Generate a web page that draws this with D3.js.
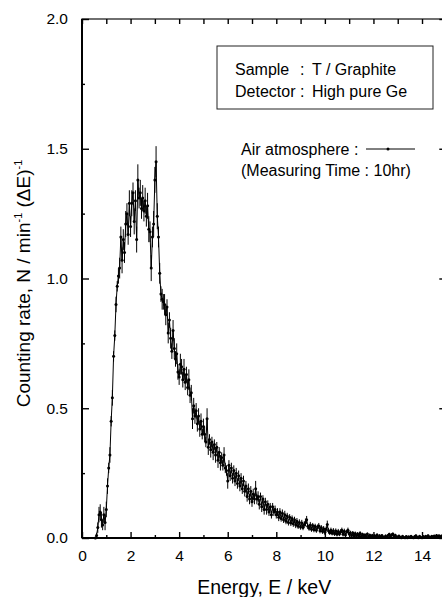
<!DOCTYPE html>
<html>
<head>
<meta charset="utf-8">
<script src="https://cdn.jsdelivr.net/npm/d3@7"></script>
<style>
  body { margin: 0; background: #fff; }
  svg { display: block; }
  text { font-family: "Liberation Sans", Arial, Helvetica, sans-serif; fill: #000; }
</style>
</head>
<body>
<svg id="chart" width="442" height="597"></svg>
<script>
// channel calibration of the spectrum (keV)
const eStart = 0.55
const eStep = 0.05

// counting rate per channel
const counts = [
  0.00, 0.01, 0.04, 0.09, 0.10, 0.07, 0.05, 0.09, 0.06, 0.11, 0.20, 0.27, 0.32, 0.45, 0.54,
  0.70, 0.78, 0.90, 0.97, 1.01, 1.04, 1.16, 1.07, 1.15, 1.10, 1.21, 1.25, 1.17, 1.29, 1.20,
  1.29, 1.33, 1.22, 1.30, 1.15, 1.38, 1.31, 1.33, 1.27, 1.31, 1.26, 1.30, 1.24, 1.28, 1.19,
  1.18, 1.04, 1.16, 1.21, 1.38, 1.45, 1.24, 1.16, 1.02, 0.94, 0.92, 0.91, 0.90, 0.86, 0.89,
  0.79, 0.84, 0.77, 0.72, 0.80, 0.73, 0.69, 0.71, 0.64, 0.62, 0.67, 0.66, 0.61, 0.65, 0.60,
  0.63, 0.58, 0.61, 0.55, 0.56, 0.46, 0.51, 0.47, 0.49, 0.44, 0.47, 0.42, 0.45, 0.40, 0.43,
  0.40, 0.37, 0.46, 0.35, 0.38, 0.34, 0.37, 0.33, 0.36, 0.32, 0.35, 0.30, 0.33, 0.29, 0.31,
  0.28, 0.32, 0.27, 0.26, 0.22, 0.28, 0.24, 0.27, 0.23, 0.26, 0.22, 0.25, 0.21, 0.24, 0.20,
  0.23, 0.19, 0.22, 0.18, 0.20, 0.16, 0.19, 0.15, 0.18, 0.14, 0.17, 0.15, 0.19, 0.15, 0.16,
  0.13, 0.16, 0.12, 0.15, 0.11, 0.14, 0.11, 0.13, 0.10, 0.12, 0.09, 0.12, 0.10, 0.11, 0.09,
  0.10, 0.08, 0.10, 0.075, 0.095, 0.07, 0.09, 0.065, 0.085, 0.06, 0.08, 0.058, 0.075, 0.055, 0.07,
  0.05, 0.065, 0.045, 0.06, 0.042, 0.058, 0.04, 0.052, 0.06, 0.07, 0.045, 0.038, 0.05, 0.034, 0.048,
  0.032, 0.045, 0.03, 0.042, 0.046, 0.028, 0.04, 0.026, 0.036, 0.022, 0.034, 0.052, 0.028, 0.02, 0.03,
  0.018, 0.028, 0.016, 0.027, 0.014, 0.025, 0.015, 0.024, 0.03, 0.014, 0.026, 0.012, 0.024, 0.03, 0.016,
  0.02, 0.01, 0.019, 0.009, 0.017, 0.008, 0.015, 0.009, 0.018, 0.006, 0.014, 0.007, 0.012, 0.005, 0.015,
  0.006, 0.011, 0.004, 0.01, 0.003, 0.009, 0.004, 0.012, 0.003, 0.009, 0.002, 0.01, 0.004, 0.002, 0.008,
  0.003, 0.01, 0.014, 0.006, 0.012, 0.015, 0.005, 0.011, 0.004, 0.002, 0.008, 0.003, 0.001, 0.007, 0.002,
  0.001, 0.006, 0.001, 0.005, 0.002, 0.007, 0.002, 0.001, 0.006, 0.009, 0.003, 0.001, 0.007, 0.002, 0.001,
  0.006, 0.002, 0.007, 0.003, 0.009, 0.004, 0.002, 0.007, 0.003, 0.008, 0.004, 0.01, 0.005, 0.009, 0.004,
  0.008, 0.005
]

// half length of the error bar on each channel
const errors = [
  0.00, 0.01, 0.02, 0.03, 0.03, 0.03, 0.02, 0.03, 0.03, 0.03, 0.03, 0.02, 0.03, 0.02, 0.03,
  0.02, 0.02, 0.03, 0.02, 0.03, 0.04, 0.04, 0.05, 0.04, 0.04, 0.05, 0.04, 0.04, 0.05, 0.04,
  0.05, 0.04, 0.05, 0.04, 0.05, 0.06, 0.04, 0.05, 0.04, 0.05, 0.04, 0.05, 0.04, 0.05, 0.05,
  0.04, 0.05, 0.04, 0.05, 0.05, 0.06, 0.05, 0.04, 0.04, 0.03, 0.04, 0.03, 0.04, 0.04, 0.03,
  0.04, 0.03, 0.04, 0.03, 0.04, 0.04, 0.03, 0.04, 0.03, 0.03, 0.04, 0.03, 0.03, 0.04, 0.03,
  0.03, 0.03, 0.04, 0.03, 0.03, 0.04, 0.03, 0.03, 0.03, 0.03, 0.03, 0.03, 0.03, 0.02, 0.03,
  0.03, 0.02, 0.04, 0.03, 0.02, 0.03, 0.02, 0.03, 0.02, 0.03, 0.02, 0.03, 0.02, 0.03, 0.02,
  0.02, 0.03, 0.02, 0.02, 0.03, 0.02, 0.02, 0.02, 0.02, 0.02, 0.02, 0.02, 0.02, 0.02, 0.02,
  0.02, 0.02, 0.02, 0.02, 0.02, 0.02, 0.02, 0.02, 0.02, 0.02, 0.02, 0.02, 0.03, 0.02, 0.02,
  0.02, 0.015, 0.02, 0.015, 0.02, 0.015, 0.02, 0.015, 0.015, 0.015, 0.015, 0.015, 0.015, 0.015, 0.015,
  0.015, 0.015, 0.015, 0.012, 0.015, 0.012, 0.015, 0.012, 0.012, 0.012, 0.012, 0.012, 0.012, 0.012, 0.012,
  0.012, 0.012, 0.01, 0.012, 0.01, 0.012, 0.01, 0.012, 0.015, 0.015, 0.01, 0.01, 0.012, 0.01, 0.01,
  0.01, 0.01, 0.01, 0.01, 0.012, 0.01, 0.01, 0.01, 0.01, 0.01, 0.01, 0.015, 0.01, 0.008, 0.01,
  0.008, 0.01, 0.008, 0.01, 0.008, 0.01, 0.008, 0.01, 0.01, 0.008, 0.01, 0.008, 0.008, 0.01, 0.008,
  0.008, 0.006, 0.008, 0.006, 0.008, 0.006, 0.008, 0.006, 0.008, 0.006, 0.006, 0.006, 0.006, 0.005, 0.006,
  0.005, 0.006, 0.004, 0.006, 0.004, 0.005, 0.004, 0.006, 0.004, 0.005, 0.003, 0.005, 0.004, 0.003, 0.005,
  0.003, 0.005, 0.006, 0.004, 0.006, 0.006, 0.004, 0.005, 0.004, 0.003, 0.004, 0.003, 0.002, 0.004, 0.003,
  0.002, 0.004, 0.002, 0.003, 0.002, 0.004, 0.002, 0.002, 0.004, 0.005, 0.003, 0.002, 0.004, 0.002, 0.002,
  0.004, 0.002, 0.004, 0.003, 0.005, 0.003, 0.002, 0.004, 0.003, 0.004, 0.003, 0.005, 0.003, 0.004, 0.003,
  0.004, 0.003
]

const xMajor = [0, 2, 4, 6, 8, 10, 12, 14]
const xMinor = [1, 3, 5, 7, 9, 11, 13]
const yMajor = [0, 0.5, 1.0, 1.5, 2.0]
const yMinor = [0.25, 0.75, 1.25, 1.75]

const infoLabels = ['Sample', 'Detector']
const infoValues = ['T / Graphite', 'High pure Ge']
const seriesName = 'Air atmosphere :'
const seriesNote = '(Measuring Time : 10hr)'

const data = counts.map((c, i) => ({ e: eStart + i * eStep, c: c, err: errors[i] }))

const svg = d3.select('#chart')
const x = d3.scaleLinear().domain([0, 15]).range([82, 446.3])
const y = d3.scaleLinear().domain([0, 2]).range([538, 19])

// frame
svg.append('rect')
  .attr('x', x(0)).attr('y', y(2))
  .attr('width', x(15) - x(0)).attr('height', y(0) - y(2))
  .attr('fill', 'none').attr('stroke', '#111').attr('stroke-width', 1.2)
svg.append('line').attr('x1', x(0)).attr('x2', x(0)).attr('y1', y(2)).attr('y2', y(0))
  .attr('stroke', '#000').attr('stroke-width', 2)
svg.append('line').attr('x1', x(0)).attr('x2', x(15)).attr('y1', y(0)).attr('y2', y(0))
  .attr('stroke', '#000').attr('stroke-width', 2)

function styleAxis (g) {
  g.select('.domain').remove()
  g.selectAll('line').attr('stroke', '#000').attr('stroke-width', 1.4)
  g.selectAll('text').attr('fill', '#000').style('font-size', '15.5px')
}

// bottom
svg.append('g').attr('transform', `translate(0,${y(0)})`)
  .call(d3.axisBottom(x).tickValues(xMajor).tickFormat(d3.format('d')).tickSize(-6).tickPadding(12))
  .call(styleAxis)
svg.append('g').attr('transform', `translate(0,${y(0)})`)
  .call(d3.axisBottom(x).tickValues(xMinor).tickFormat('').tickSize(-3))
  .call(styleAxis)
// top
svg.append('g').attr('transform', `translate(0,${y(2)})`)
  .call(d3.axisTop(x).tickValues(xMajor.concat(xMinor)).tickFormat('').tickSize(-5))
  .call(styleAxis)
// left
svg.append('g').attr('transform', `translate(${x(0)},0)`)
  .call(d3.axisLeft(y).tickValues(yMajor).tickFormat(d3.format('.1f')).tickSize(-7).tickPadding(14))
  .call(styleAxis)
svg.append('g').attr('transform', `translate(${x(0)},0)`)
  .call(d3.axisLeft(y).tickValues(yMinor).tickFormat('').tickSize(-3))
  .call(styleAxis)
// right
svg.append('g').attr('transform', `translate(${x(15)},0)`)
  .call(d3.axisRight(y).tickValues(yMajor).tickFormat('').tickSize(-7))
  .call(styleAxis)

// axis titles
svg.append('text')
  .attr('x', (x(0) + x(15)) / 2).attr('y', 594)
  .attr('text-anchor', 'middle').style('font-size', '19.5px')
  .text('Energy, E / keV')

const yt = svg.append('text')
  .attr('transform', `translate(30,${(y(0) + y(2)) / 2 + 5}) rotate(-90)`)
  .attr('text-anchor', 'middle').style('font-size', '19px')
yt.append('tspan').text('Counting rate, N / min')
yt.append('tspan').attr('dy', -8).style('font-size', '11px').text('-1')
yt.append('tspan').attr('dy', 8).text(' (ΔE)')
yt.append('tspan').attr('dy', -8).style('font-size', '11px').text('-1')

// spectrum
svg.append('g').selectAll('line')
  .data(data.filter(d => d.err > 0)).join('line')
  .attr('x1', d => x(d.e)).attr('x2', d => x(d.e))
  .attr('y1', d => y(Math.max(0, d.c - d.err))).attr('y2', d => y(d.c + d.err))
  .attr('stroke', '#000').attr('stroke-width', 1)
svg.append('path')
  .datum(data)
  .attr('fill', 'none').attr('stroke', '#000').attr('stroke-width', 1)
  .attr('d', d3.line().x(d => x(d.e)).y(d => y(d.c)))
svg.append('g').selectAll('circle')
  .data(data).join('circle')
  .attr('cx', d => x(d.e)).attr('cy', d => y(d.c)).attr('r', 1.5)
  .attr('fill', '#000')

// info box
svg.append('rect')
  .attr('x', 217).attr('y', 46).attr('width', 216).attr('height', 63)
  .attr('fill', '#fff').attr('stroke', '#222').attr('stroke-width', 1)
const info = svg.append('g').selectAll('g')
  .data(infoLabels).join('g')
  .attr('transform', (d, i) => `translate(0,${75 + i * 22})`)
  .style('font-size', '16px')
info.append('text').attr('x', 235).text(d => d)
info.append('text').attr('x', 300).text(':')
info.append('text').attr('x', 312).text((d, i) => infoValues[i])

// series key
svg.append('text').attr('x', 241).attr('y', 155)
  .style('font-size', '16px').text(seriesName)
svg.append('line').attr('x1', 366).attr('x2', 415).attr('y1', 149).attr('y2', 149)
  .attr('stroke', '#000').attr('stroke-width', 1)
svg.append('circle').attr('cx', 388).attr('cy', 149).attr('r', 1.5).attr('fill', '#000')
svg.append('text').attr('x', 241).attr('y', 176)
  .style('font-size', '16px').text(seriesNote)
</script>
</body>
</html>
